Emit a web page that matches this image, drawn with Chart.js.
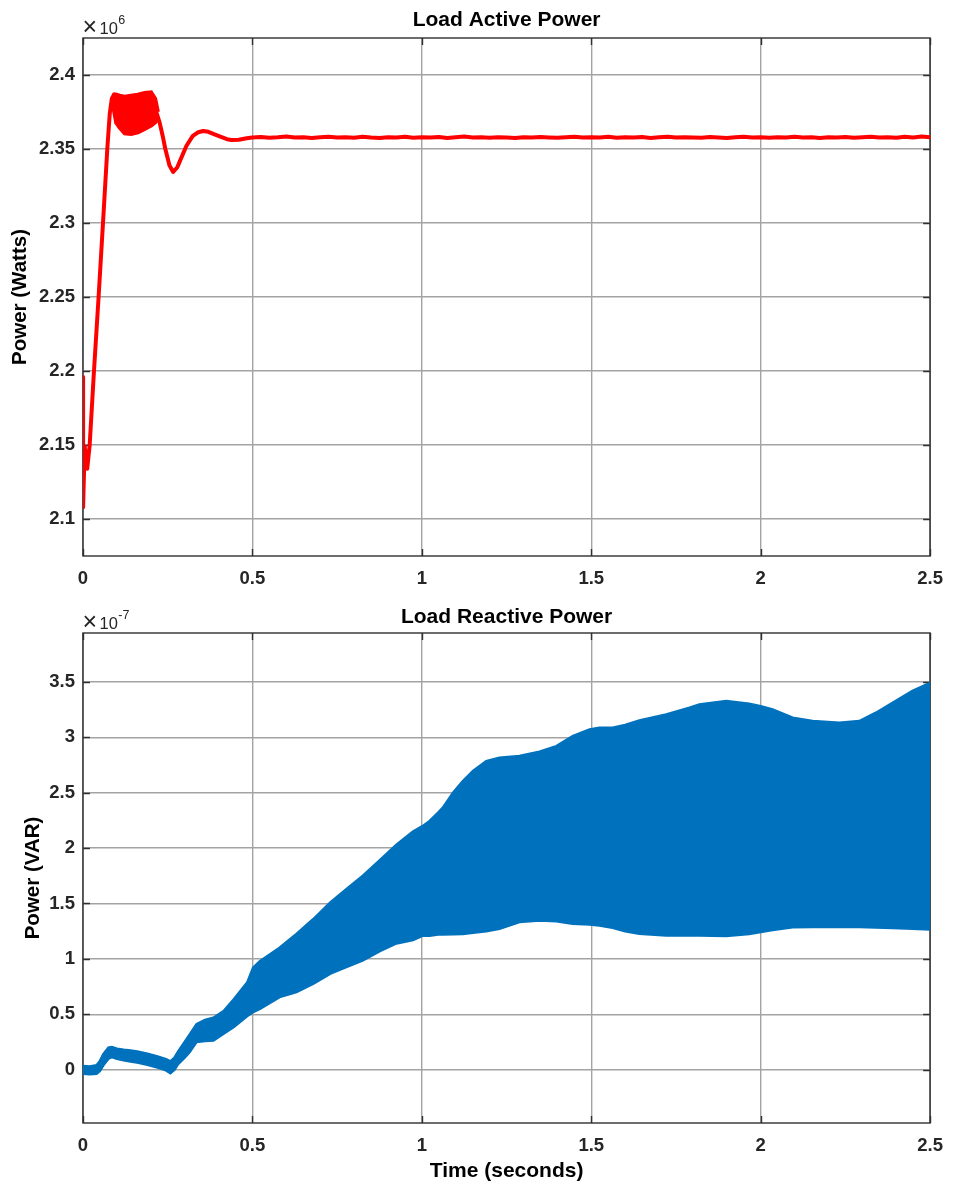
<!DOCTYPE html>
<html>
<head>
<meta charset="utf-8">
<title>Load Power</title>
<script src="https://cdn.jsdelivr.net/npm/chart.js@4.4.1/dist/chart.umd.min.js"></script>
<style>
  html, body { margin: 0; padding: 0; background: #ffffff; }
  #wrap { position: relative; width: 955px; height: 1189px; }
  .panel { position: absolute; left: 0; width: 955px; }
  canvas { display: block; }
</style>
</head>
<body>
<div id="wrap">
  <div class="panel" style="top:0;height:595px"><canvas id="activeChart" width="955" height="595"></canvas></div>
  <div class="panel" style="top:595px;height:594px"><canvas id="reactiveChart" width="955" height="594"></canvas></div>
</div>
<script>
// ---- Load active power, in units of 10^6 W ----
const activeTime = [
  0, 0.0003, 0.005, 0.0125, 0.0197, 0.0324, 0.046, 0.059, 0.0717, 0.079, 0.085, 0.092,
  0.100, 0.120, 0.150, 0.180, 0.200, 0.215, 0.226, 0.235, 0.243, 0.255, 0.266, 0.278,
  0.290, 0.305, 0.324, 0.340, 0.355, 0.370, 0.390, 0.409, 0.425, 0.438, 0.460, 0.483,
  0.500, 0.525, 0.550, 0.575, 0.600, 0.625, 0.650, 0.675, 0.700, 0.725, 0.750, 0.775,
  0.800, 0.825, 0.850, 0.875, 0.900, 0.925, 0.950, 0.975, 1.000, 1.025, 1.050, 1.075,
  1.100, 1.125, 1.150, 1.175, 1.200, 1.225, 1.250, 1.275, 1.300, 1.325, 1.350, 1.375,
  1.400, 1.425, 1.450, 1.475, 1.500, 1.525, 1.550, 1.575, 1.600, 1.625, 1.650, 1.675,
  1.700, 1.725, 1.750, 1.775, 1.800, 1.825, 1.850, 1.875, 1.900, 1.925, 1.950, 1.975,
  2.000, 2.025, 2.050, 2.075, 2.100, 2.125, 2.150, 2.175, 2.200, 2.225, 2.250, 2.275,
  2.300, 2.325, 2.350, 2.375, 2.400, 2.425, 2.450, 2.475, 2.500
];
const activePower = [
  2.196, 2.108, 2.149, 2.134, 2.150, 2.200, 2.250, 2.300, 2.350, 2.374, 2.384, 2.387,
  2.377, 2.374, 2.374, 2.375, 2.377, 2.376, 2.368, 2.359, 2.350, 2.339, 2.3345, 2.3375,
  2.344, 2.352, 2.3589, 2.3613, 2.3622, 2.3616, 2.3597, 2.3580, 2.3566, 2.3561, 2.3562, 2.3573,
  2.3578, 2.3581, 2.3576, 2.3579, 2.3584, 2.3577, 2.3580, 2.3574, 2.3579, 2.3582, 2.3577, 2.3580,
  2.3576, 2.3583, 2.3578, 2.3575, 2.3580, 2.3578, 2.3582, 2.3576, 2.3579, 2.3577, 2.3581, 2.3575,
  2.3579, 2.3584, 2.3577, 2.3579, 2.3576, 2.3580, 2.3578, 2.3574, 2.3580, 2.3577, 2.3581, 2.3578,
  2.3576, 2.3579, 2.3583, 2.3577, 2.3580, 2.3578, 2.3582, 2.3576, 2.3579, 2.3577, 2.3581, 2.3575,
  2.3579, 2.3583, 2.3577, 2.3580, 2.3578, 2.3576, 2.3581, 2.3578, 2.3574, 2.3579, 2.3582, 2.3577,
  2.3579, 2.3576, 2.3580, 2.3578, 2.3583, 2.3577, 2.3579, 2.3575, 2.3580, 2.3578, 2.3581, 2.3576,
  2.3579, 2.3583, 2.3577, 2.3580, 2.3576, 2.3582, 2.3578, 2.3584, 2.3579
];
// ripple envelope during the first overshoot
const activeBandTime = [0.088, 0.098, 0.108, 0.123, 0.142, 0.162, 0.182, 0.201, 0.213, 0.221];
const activeBandHigh = [2.3860, 2.3867, 2.3860, 2.3853, 2.3860, 2.3867, 2.3878, 2.3882, 2.3840, 2.3750];
const activeBandLow  = [2.3805, 2.3678, 2.3645, 2.3606, 2.3602, 2.3613, 2.3636, 2.3658, 2.3680, 2.3705];

// ---- Load reactive power envelope, in units of 10^-7 VAR ----
const reactiveTime = [
  0, 0.02, 0.04, 0.05, 0.06, 0.075, 0.085, 0.10, 0.12, 0.14, 0.16, 0.19,
  0.22, 0.245, 0.258, 0.27, 0.28, 0.30, 0.315, 0.335, 0.36, 0.385, 0.415, 0.445,
  0.485, 0.502, 0.522, 0.58, 0.63, 0.68, 0.73, 0.777, 0.826, 0.876, 0.925, 0.974,
  1.003, 1.023, 1.048, 1.062, 1.092, 1.121, 1.151, 1.19, 1.229, 1.288, 1.347, 1.397,
  1.445, 1.495, 1.524, 1.563, 1.60, 1.642, 1.721, 1.79, 1.819, 1.898, 1.966, 2.0,
  2.035, 2.094, 2.153, 2.232, 2.291, 2.34, 2.389, 2.448, 2.5
];
const reactiveHigh = [
  0.035, 0.03, 0.04, 0.08, 0.14, 0.20, 0.205, 0.19, 0.18, 0.175, 0.165, 0.145,
  0.12, 0.095, 0.075, 0.11, 0.16, 0.25, 0.32, 0.41, 0.45, 0.47, 0.53, 0.635,
  0.79, 0.92, 0.98, 1.10, 1.225, 1.36, 1.51, 1.63, 1.75, 1.89, 2.03, 2.15,
  2.20, 2.245, 2.32, 2.365, 2.50, 2.605, 2.695, 2.785, 2.815, 2.83, 2.87, 2.92,
  3.01, 3.07, 3.086, 3.086, 3.11, 3.15, 3.206, 3.266, 3.296, 3.326, 3.302, 3.28,
  3.251, 3.176, 3.146, 3.13, 3.146, 3.221, 3.311, 3.417, 3.49
];
const reactiveLow = [
  -0.035, -0.04, -0.035, -0.01, 0.04, 0.10, 0.115, 0.10, 0.085, 0.075, 0.065, 0.045,
  0.02, -0.005, -0.03, 0.0, 0.05, 0.11, 0.16, 0.25, 0.26, 0.265, 0.326, 0.386,
  0.485, 0.52, 0.55, 0.656, 0.70, 0.776, 0.867, 0.927, 0.987, 1.07, 1.14, 1.17,
  1.21, 1.21, 1.22, 1.22, 1.222, 1.225, 1.235, 1.25, 1.272, 1.332, 1.347, 1.34,
  1.317, 1.31, 1.302, 1.28, 1.25, 1.227, 1.212, 1.212, 1.212, 1.207, 1.225, 1.242,
  1.26, 1.285, 1.288, 1.29, 1.287, 1.284, 1.28, 1.272, 1.266
];

// ---- axes ----
const timeTicks = [0, 0.5, 1, 1.5, 2, 2.5];
const timeTickLabels = ['0', '0.5', '1', '1.5', '2', '2.5'];
const activeTicks = [2.1, 2.15, 2.2, 2.25, 2.3, 2.35, 2.4];
const activeTickLabels = ['2.1', '2.15', '2.2', '2.25', '2.3', '2.35', '2.4'];
const reactiveTicks = [0, 0.5, 1, 1.5, 2, 2.5, 3, 3.5];
const reactiveTickLabels = ['0', '0.5', '1', '1.5', '2', '2.5', '3', '3.5'];

const RED = '#ff0000';
const BLUE = '#0072bd';
const AXIS = '#262626';
const GRID = '#a3a3a3';
const FONT = "'Liberation Sans', Arial, Helvetica, sans-serif";

const pairs = (xs, ys) => xs.map((x, i) => ({ x, y: ys[i] }));

// axes box with inward tick marks, the title centred over the axes,
// and the x10^n multiplier above the y axis
const framePlugin = {
  id: 'frame',
  beforeDatasetsDraw(chart) {
    const { ctx, chartArea: a, scales: { x, y } } = chart;
    ctx.save();
    ctx.strokeStyle = '#303030';
    ctx.lineWidth = 1.4;
    ctx.strokeRect(a.left, a.top, a.right - a.left, a.bottom - a.top);
    ctx.beginPath();
    const len = 7;
    x.ticks.forEach(t => {
      const px = Math.round(x.getPixelForValue(t.value)) + 0.5;
      ctx.moveTo(px, a.bottom); ctx.lineTo(px, a.bottom - len);
      ctx.moveTo(px, a.top); ctx.lineTo(px, a.top + len);
    });
    y.ticks.forEach(t => {
      const py = Math.round(y.getPixelForValue(t.value)) + 0.5;
      ctx.moveTo(a.left, py); ctx.lineTo(a.left + len, py);
      ctx.moveTo(a.right, py); ctx.lineTo(a.right - len, py);
    });
    ctx.stroke();
    ctx.restore();
  },
  afterDraw(chart, args, opts) {
    const { ctx, chartArea: a } = chart;
    ctx.save();
    // title
    ctx.fillStyle = '#000000';
    ctx.textAlign = 'center';
    ctx.textBaseline = 'middle';
    ctx.font = 'bold 21px ' + FONT;
    ctx.fillText(opts.title, (a.left + a.right) / 2, a.top - opts.titleGap);
    // multiplier
    ctx.fillStyle = AXIS;
    ctx.textAlign = 'left';
    ctx.textBaseline = 'alphabetic';
    const base = a.top - 4.5;
    ctx.font = '25px ' + FONT;
    ctx.fillText('\u00d7', a.left - 0.5, base + 1.5);
    ctx.font = '16.5px ' + FONT;
    ctx.fillText('10', a.left + 16.5, base);
    const w = ctx.measureText('10').width;
    ctx.font = '12.5px ' + FONT;
    ctx.fillText(opts.exponent, a.left + 16.5 + w + 0.5, base - 9.5);
    ctx.restore();
  }
};

function makeOptions(cfg) {
  return {
    responsive: false,
    animation: false,
    events: [],
    layout: { padding: { left: 0, right: 23, top: 38, bottom: 0 } },
    elements: { point: { radius: 0 }, line: { tension: 0 } },
    plugins: {
      legend: { display: false },
      tooltip: { enabled: false },
      title: { display: false },
      frame: { exponent: cfg.exponent, title: cfg.title, titleGap: cfg.titleGap }
    },
    scales: {
      x: {
        type: 'linear',
        min: 0,
        max: 2.5,
        afterBuildTicks: s => { s.ticks = timeTicks.map(v => ({ value: v })); },
        afterFit: s => { s.height = cfg.xHeight; },
        ticks: {
          color: AXIS,
          padding: 12,
          maxRotation: 0,
          autoSkip: false,
          font: { family: FONT, size: 18.5, weight: 'bold', lineHeight: 1.2 },
          callback: v => timeTickLabels[timeTicks.indexOf(v)]
        },
        grid: { color: GRID, lineWidth: 1.4, drawTicks: false },
        border: { display: false },
        title: {
          display: !!cfg.xTitle,
          text: cfg.xTitle || '',
          color: '#000000',
          font: { family: FONT, size: 21, weight: 'bold', lineHeight: 1.2 },
          padding: { top: 0, bottom: 5 }
        }
      },
      y: {
        type: 'linear',
        min: cfg.yMin,
        max: cfg.yMax,
        afterBuildTicks: s => { s.ticks = cfg.yTicks.map(v => ({ value: v })); },
        afterFit: s => { s.width = 83; },
        ticks: {
          color: AXIS,
          padding: 8,
          autoSkip: false,
          font: { family: FONT, size: 18.5, weight: 'bold', lineHeight: 1.2 },
          callback: v => cfg.yTickLabels[cfg.yTicks.indexOf(v)]
        },
        grid: { color: GRID, lineWidth: 1.4, drawTicks: false },
        border: { display: false },
        title: {
          display: true,
          text: cfg.yTitle,
          color: '#000000',
          font: { family: FONT, size: 20.5, weight: 'bold', lineHeight: 1.2 },
          padding: { top: cfg.yTitlePad, bottom: 0 }
        }
      }
    }
  };
}

new Chart(document.getElementById('activeChart'), {
  type: 'line',
  data: {
    datasets: [
      { data: pairs(activeBandTime, activeBandHigh), borderColor: RED, backgroundColor: RED, borderWidth: 4, fill: '+1' },
      { data: pairs(activeBandTime, activeBandLow), borderColor: RED, backgroundColor: RED, borderWidth: 4, fill: false },
      { data: pairs(activeTime, activePower), borderColor: RED, borderWidth: 4, fill: false, borderJoinStyle: 'round', borderCapStyle: 'round' }
    ]
  },
  options: makeOptions({
    title: 'Load Active Power',
    titleGap: 18,
    exponent: '6',
    xHeight: 39,
    yMin: 2.075, yMax: 2.425,
    yTicks: activeTicks, yTickLabels: activeTickLabels,
    yTitle: 'Power (Watts)', yTitlePad: 8
  }),
  plugins: [framePlugin]
});

new Chart(document.getElementById('reactiveChart'), {
  type: 'line',
  data: {
    datasets: [
      { data: pairs(reactiveTime, reactiveHigh), borderColor: BLUE, backgroundColor: BLUE, borderWidth: 2.5, fill: '+1' },
      { data: pairs(reactiveTime, reactiveLow), borderColor: BLUE, backgroundColor: BLUE, borderWidth: 2.5, fill: false }
    ]
  },
  options: makeOptions({
    title: 'Load Reactive Power',
    titleGap: 16,
    exponent: '-7',
    xHeight: 66,
    xTitle: 'Time (seconds)',
    yMin: -0.48, yMax: 3.94,
    yTicks: reactiveTicks, yTickLabels: reactiveTickLabels,
    yTitle: 'Power (VAR)', yTitlePad: 21
  }),
  plugins: [framePlugin]
});
</script>
</body>
</html>
